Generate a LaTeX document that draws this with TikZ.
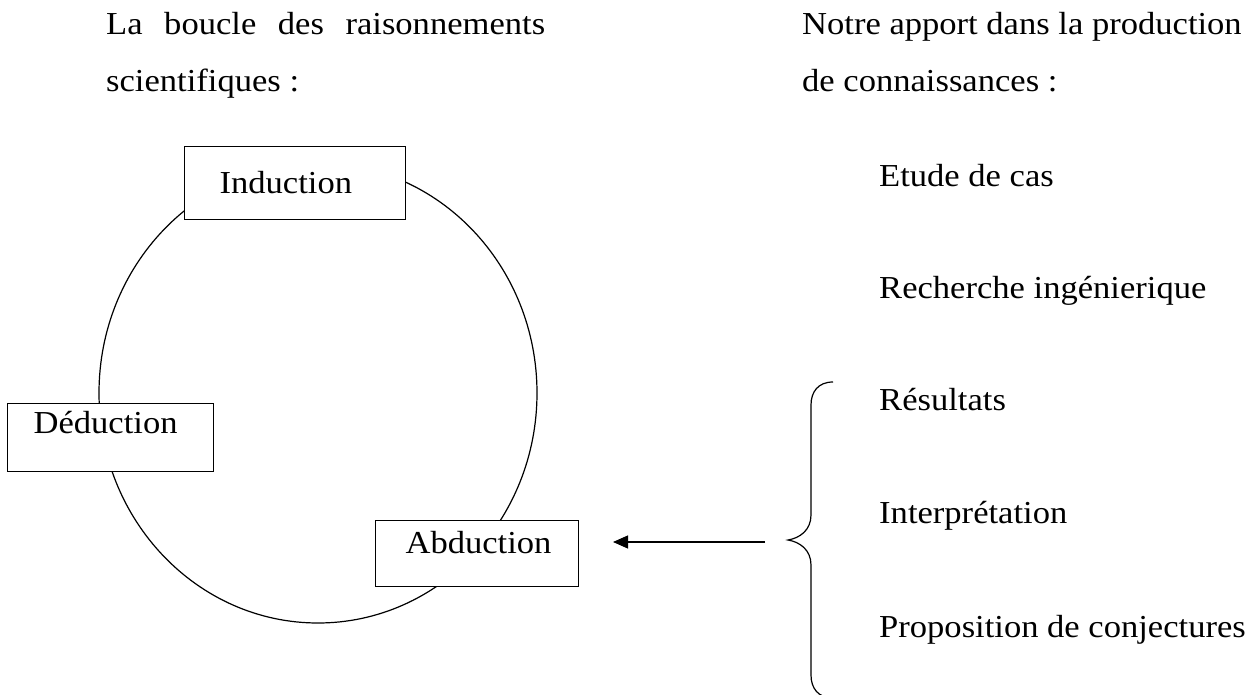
\documentclass[tikz,border=0pt]{standalone}
\usepackage{fontspec}
\setmainfont{Liberation Serif}[FakeStretch=1.08]
\usetikzlibrary{arrows.meta,shapes.geometric}
\tikzset{
  txt/.style={anchor=base west, inner sep=0pt, font=\fontsize{32}{38}\selectfont},
  box/.style={draw, line width=1.2pt, fill=white, anchor=north west, inner ysep=0pt, align=left,
              font=\fontsize{32}{38}\selectfont},
  loopline/.style={draw, line width=1.2pt},
}
\begin{document}
\begin{tikzpicture}[x=1pt,y=-1pt]
\useasboundingbox (0,0) rectangle (1255,695);
% left column heading
\node[txt] (h1) at (106,35) {\makebox[439pt][s]{La boucle des raisonnements}};
\node[txt] (h2) at (106,92) {scientifiques :};
% right column heading
\node[txt] (r1) at (802,35) {Notre apport dans la production};
\node[txt] (r2) at (802,92) {de connaissances :};
% items
\node[txt] (etude) at (879,187) {Etude de cas};
\node[txt] (rech) at (879,298) {Recherche ingénierique};
\node[txt] (res) at (879,410) {Résultats};
\node[txt] (interp) at (879,523) {Interprétation};
\node[txt] (prop) at (879,637) {Proposition de conjectures};
% loop
\node[ellipse, loopline, minimum width=438pt, minimum height=460pt, inner sep=0pt] (loop) at (318,393) {};
% boxes
\node[box, inner xsep=35pt, text width=151pt, text height=47pt, text depth=26pt] (ind) at (184,146) {Induction};
\node[box, inner xsep=26pt, text width=154pt, text height=30pt, text depth=38pt] (ded) at (7,403) {Déduction};
\node[box, inner xsep=30pt, text width=143pt, text height=33pt, text depth=33pt] (abd) at (375,520) {Abduction};
% arrow
\coordinate (astart) at (765,542);
\coordinate (aend) at (613,542);
\draw[line width=1.2pt, -{Triangle[length=15pt,width=13pt]}] (astart) -- (aend);
% brace
\draw[line width=1.2pt] (833,382) .. controls (818,382) and (811,392) .. (811,405)
  -- (811,515) .. controls (811,530) and (800,538) .. (788,540)
  .. controls (800,542) and (811,550) .. (811,565)
  -- (811,675) .. controls (811,688) and (818,698) .. (833,698);
\end{tikzpicture}
\end{document}
